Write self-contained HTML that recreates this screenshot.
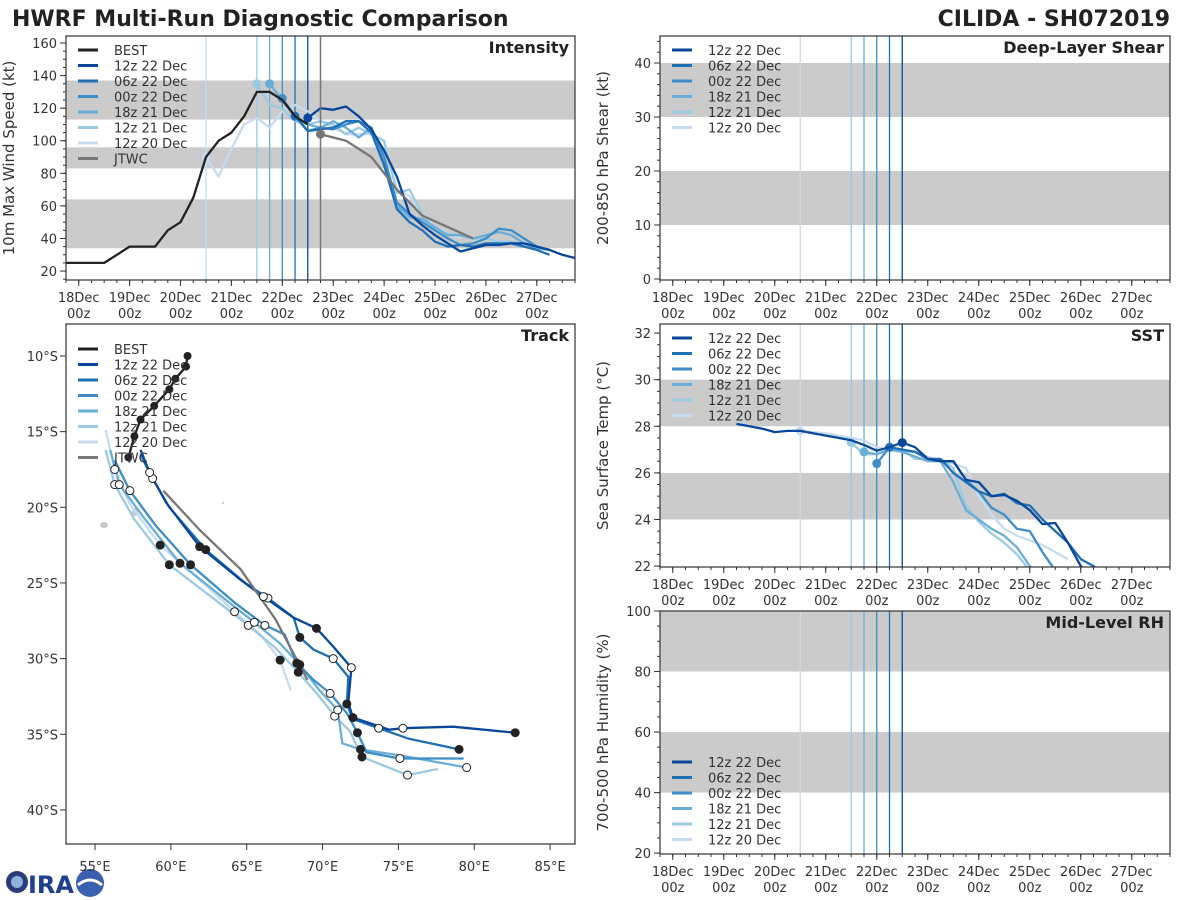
<!DOCTYPE html>
<html><head><meta charset="utf-8"><style>
body{margin:0;background:#fff;}
svg{display:block;font-family:"DejaVu Sans","Liberation Sans",sans-serif;}
</style></head><body>
<svg id="s" width="1200" height="900" viewBox="0 0 1200 900" xmlns="http://www.w3.org/2000/svg">
<text x="12" y="26" font-size="22" font-weight="bold" fill="#222">HWRF Multi-Run Diagnostic Comparison</text>
<text x="1170" y="26" font-size="22" font-weight="bold" fill="#222" text-anchor="end">CILIDA - SH072019</text>
<g>
<circle cx="17" cy="882" r="11" fill="#2a3c7a"/><circle cx="17" cy="882" r="6" fill="#8fb3de"/>
<text x="28" y="893" font-size="24" font-weight="bold" fill="#1f3f8f">IRA</text>
<circle cx="90" cy="883" r="14" fill="#3a5fae"/><path d="M78 885 q12 -10 24 0" stroke="#fff" stroke-width="3" fill="none"/>
</g>
</svg>
<script>
const runNames = ["12z 22 Dec","06z 22 Dec","00z 22 Dec","18z 21 Dec","12z 21 Dec","12z 20 Dec"];
const runColors = ["#08479b","#1f6fb4","#3d8ec8","#6aaed8","#9ccae3","#c7dcf0"];
const runInit = [108,102,96,90,84,60];
const jtwcTime = 114;
// Intensity (kt)
const bestStart = -6;
const bestVmax = [25,25,25,25,30,35,35,35,45,50,65,90,100,105,115,130,130,125,115,110];
const jtwcTimes = [114,126,138,150,162,174,186];
const jtwcVmax = [104,100,90,70,54,47,40];
const vmax12z22 = [114,120,119,121,115,107,94,78,55,48,42,37,32,34,36,36,37,37,35,33,30,28,26];
const vmax06z22 = [115,106,107,108,112,112,105,85,58,50,45,38,35,36,35,37,37,37,35,33,30];
const vmax00z22 = [126,115,106,108,107,110,112,108,90,62,55,50,45,40,36,37,40,46,45,40,35,33];
const vmax18z21 = [135,125,115,110,108,112,108,102,108,88,60,53,52,47,42,42,40,42,44,42,37,34,33];
const vmax12z21 = [135,122,120,112,110,112,110,104,108,104,100,68,70,55,45,43,42,40,40,38,38,36,35];
const vmax12z20 = [90,78,95,110,114,108,118,122,118,112,108,104,104,104,100,70,66,55,47,43,40];
// SST (C)
const sstHistStart = 30;
const sst12z22 = [28.1,28.0,27.9,27.75,27.8,27.8,27.7,27.6,27.5,27.4,27.2,26.95,27.1,27.3,27.1,26.6,26.5,26.5,25.7,25.6,25.0,25.05,24.8,24.4,23.8,23.85,23.0,22.0,21.5];
const sst06z22 = [27.1,27.0,26.9,26.6,26.6,26.0,25.6,25.2,25.0,25.1,24.7,24.6,24.0,23.5,23.0,22.3,22.0,21.6];
const sst00z22 = [26.4,27.1,27.0,26.9,26.6,26.5,26.5,25.7,25.2,24.5,24.2,23.6,23.5,22.6,21.8];
const sst18z21 = [26.9,26.8,27.0,26.9,26.7,26.5,26.5,25.6,24.4,24.0,23.6,23.3,22.8,22.0,21.5];
const sst12z21 = [27.3,26.8,26.8,27.0,27.0,26.6,26.6,26.6,26.2,24.6,23.9,23.4,23.0,22.5,21.8];
const sst12z20 = [27.8,27.75,27.7,27.6,27.5,27.4,27.1,27.0,26.9,26.9,26.7,26.5,26.4,26.2,25.0,24.2,23.6,23.3,23.1,22.9,22.6,22.3];
// Track (lon E, lat S)
const bestLon = [61.1,61.0,60.3,59.9,58.9,58.0,57.6,57.2];
const bestLat = [10.0,10.7,11.5,12.2,13.3,14.2,15.3,16.7];
const jtwcLon = [59.5,61.9,64.6,66.9,69.0];
const jtwcLat = [18.9,21.5,24.1,27.4,31.4];
const lon12z22 = [58.0,58.6,59.7,61.9,64.6,66.1,68.1,69.6,70.7,71.9,71.7,72.0,74.4,75.3,78.6,82.7];
const lat12z22 = [16.2,17.7,19.7,22.6,24.8,25.9,27.3,28.0,29.2,30.6,32.9,33.9,34.7,34.6,34.5,34.9];
const lon06z22 = [58.0,58.8,59.9,62.3,64.9,66.4,68.1,68.5,69.4,70.7,71.7,71.6,72.0,73.7,75.7,79.0];
const lat06z22 = [16.5,18.1,20.0,22.8,25.0,26.0,27.3,28.6,29.4,30.0,31.2,33.0,34.0,34.6,35.3,36.0];
const lon00z22 = [56.3,57.3,59.0,61.3,64.2,66.2,67.5,68.3,69.4,70.5,71.6,72.3,72.9,75.1,79.3];
const lat00z22 = [16.9,18.9,21.2,23.8,26.3,27.8,28.4,30.3,31.4,32.3,33.6,34.9,36.2,36.6,36.6];
const lon18z21 = [56.0,56.6,58.3,60.6,63.6,65.5,67.2,68.5,69.8,71.0,71.3,72.5,75.1,79.5];
const lat18z21 = [16.2,18.5,20.8,23.7,26.1,27.6,29.0,30.4,32.1,33.4,35.6,36.0,36.4,37.2];
const lon12z21 = [55.7,56.3,57.6,59.9,62.9,65.1,66.9,68.4,69.7,70.8,71.8,72.6,74.1,75.6,77.6];
const lat12z21 = [16.2,18.5,20.8,23.8,26.1,27.8,29.3,30.9,32.4,33.8,34.8,36.5,37.1,37.7,37.3];
const lon12z20 = [55.7,56.3,57.3,59.3,61.9,64.2,65.9,67.2,67.9];
const lat12z20 = [14.9,17.5,19.8,22.5,24.8,26.9,28.4,30.1,32.1];
const dayLabels = ["18Dec","19Dec","20Dec","21Dec","22Dec","23Dec","24Dec","25Dec","26Dec","27Dec"];
const lonTicks = [55,60,65,70,75,80,85];
const latTicks = [10,15,20,25,30,35,40];

const NS="http://www.w3.org/2000/svg", svg=document.getElementById('s');
function mk(tag,attrs,parent){const e=document.createElementNS(NS,tag);for(const k in attrs)e.setAttribute(k,attrs[k]);(parent||svg).appendChild(e);return e;}
function txt(x,y,s,attrs,parent){const e=mk('text',Object.assign({x:x,y:y,'font-size':13,fill:'#333'},attrs||{}),parent);e.textContent=s;return e;}

let clipN=0;
function timePanel(name,x0,x1,y0,y1,vmin,vmax,bands,yTicks,yMinor,ytitle,title){
  const g=mk('g',{});
  
  
  const P={x0,x1,y0,y1,g};
  P.sx=t=>x0+(t+6)/240*(x1-x0);
  P.sy=v=>y1-(v-vmin)/(vmax-vmin)*(y1-y0);
  const cid='c'+(clipN++);
  const cp=mk('clipPath',{id:cid},g);mk('rect',{x:x0,y:y0,width:x1-x0,height:y1-y0},cp);
  P.clip='url(#'+cid+')';
  bands.forEach(b=>{const r=mk('rect',{x:x0,y:P.sy(b[1]),width:x1-x0,height:P.sy(b[0])-P.sy(b[1]),fill:'#cbcbcb'},g);
    
    });
  const vg=mk('g',{'clip-path':P.clip},g);
  runInit.forEach((t,i)=>{const l=mk('line',{x1:P.sx(t),x2:P.sx(t),y1:y0,y2:y1,stroke:runColors[i],'stroke-width':1.3},vg);
    
    });
  P.data=mk('g',{'clip-path':P.clip},g);
  for(let d=0;d<10;d++){const x=P.sx(d*24);
    mk('line',{x1:x,x2:x,y1:y1,y2:y1+6,stroke:'#333'},g);
    txt(x,y1+22,dayLabels[d],{'text-anchor':'middle'},g);
    txt(x,y1+38,'00z',{'text-anchor':'middle'},g);}
  for(let t=-6;t<=234;t+=6){const x=P.sx(t);mk('line',{x1:x,x2:x,y1:y1,y2:y1+3,stroke:'#333'},g);}
  yTicks.forEach(v=>{const y=P.sy(v);mk('line',{x1:x0-6,x2:x0,y1:y,y2:y,stroke:'#333'},g);txt(x0-9,y+5,String(v),{'text-anchor':'end'},g);});
  for(let v=yTicks[0]-yMinor*4;v<=yTicks[yTicks.length-1]+yMinor*4;v+=yMinor){const y=P.sy(v);if(y>=y0&&y<=y1)mk('line',{x1:x0-3,x2:x0,y1:y,y2:y,stroke:'#333'},g);}
  mk('rect',{x:x0,y:y0,width:x1-x0,height:y1-y0,fill:'none',stroke:'#333','stroke-width':1.2},g);
  const yt=txt(0,0,ytitle,{'font-size':15,'text-anchor':'middle',transform:`translate(${x0-52},${(y0+y1)/2}) rotate(-90)`},g);
  
  
  const tt=txt(x1-6,y0+17,title,{'font-size':16,'font-weight':'bold','text-anchor':'end',fill:'#222'},g);
  
  
  return P;
}
function series(P,t0,vals,color,w,name,marker){
  const pts=vals.map((v,i)=>P.sx(t0+i*6).toFixed(1)+','+P.sy(v).toFixed(1)).join(' ');
  const l=mk('polyline',{points:pts,fill:'none',stroke:color,'stroke-width':w,'stroke-linejoin':'round'},P.data);
  
  
  if(marker){const c=mk('circle',{cx:P.sx(t0),cy:P.sy(vals[0]),r:4.5,fill:color},P.data);
    
    }
}
function seriesXY(P,ts,vals,color,w,name){
  const pts=vals.map((v,i)=>P.sx(ts[i]).toFixed(1)+','+P.sy(v).toFixed(1)).join(' ');
  const l=mk('polyline',{points:pts,fill:'none',stroke:color,'stroke-width':w},P.data);
  
  
}
function legend(x,y,names,colors,parent){
  const g=mk('g',{},parent);
  
  
  names.forEach((n,i)=>{const yy=y+i*15.5;
    mk('line',{x1:x,x2:x+20,y1:yy,y2:yy,stroke:colors[i],'stroke-width':3},g);
    const t=txt(x+36,yy+5,n,{},g);
    
    });
}

const PI=timePanel('intensity',66,575,36,280,14.5,164.3,[[34,64],[83,96],[113,137]],[20,40,60,80,100,120,140,160],5,'10m Max Wind Speed (kt)','Intensity');
{const l=mk('line',{x1:PI.sx(jtwcTime),x2:PI.sx(jtwcTime),y1:36,y2:280,stroke:'#777','stroke-width':1.5},PI.g);
 
 }
const vmaxRuns=[vmax12z22,vmax06z22,vmax00z22,vmax18z21,vmax12z21,vmax12z20];
for(let i=5;i>=0;i--)series(PI,runInit[i],vmaxRuns[i],runColors[i],2.3,'intensity-'+runNames[i].replace(/ /g,'-'),true);
series(PI,bestStart,bestVmax,'#222',2.3,'intensity-best',false);
seriesXY(PI,jtwcTimes,jtwcVmax,'#777',2.3,'intensity-jtwc');
{const c=mk('circle',{cx:PI.sx(jtwcTimes[0]),cy:PI.sy(jtwcVmax[0]),r:4.5,fill:'#777'},PI.data);
 
 }
legend(78,50,['BEST'].concat(runNames,['JTWC']),['#222'].concat(runColors,['#777']),PI.g);

const PS=timePanel('shear',660,1170,36,280,-0.19,45,[[10,20],[30,40]],[0,10,20,30,40],2,'200-850 hPa Shear (kt)','Deep-Layer Shear');
legend(672,50,runNames,runColors,PS.g);
const PT=timePanel('sst',660,1170,324,567,21.96,32.39,[[24,26],[28,30]],[22,24,26,28,30,32],0.5,'Sea Surface Temp (°C)','SST');
const sstRuns=[sst12z22,sst06z22,sst00z22,sst18z21,sst12z21,sst12z20];
for(let i=5;i>=1;i--)series(PT,runInit[i],sstRuns[i],runColors[i],2.3,'sst-'+runNames[i].replace(/ /g,'-'),true);
series(PT,sstHistStart,sst12z22,runColors[0],2.3,'sst-12z-22-Dec',false);
{const c=mk('circle',{cx:PT.sx(runInit[0]),cy:PT.sy(sst12z22[(runInit[0]-sstHistStart)/6]),r:4.5,fill:runColors[0]},PT.data);
 
 }
legend(672,338,runNames,runColors,PT.g);
const PR=timePanel('rh',660,1170,611,854,19.7,100,[[40,60],[80,100]],[20,40,60,80,100],5,'700-500 hPa Humidity (%)','Mid-Level RH');
legend(672,762,runNames,runColors,PR.g);

(function(){
  const x0=66,x1=575,y0=324,y1=844;
  const g=mk('g',{});
  
  
  const sx=lon=>95+(lon-55)*15.17, sy=lat=>356+(lat-10)*15.13;
  const cp=mk('clipPath',{id:'ctrack'},g);mk('rect',{x:x0,y:y0,width:x1-x0,height:y1-y0},cp);
  const d=mk('g',{'clip-path':'url(#ctrack)'},g);
  [[104,525,4,3],[135,512,3,4],[223,503,1.2,1]].forEach(a=>{const e=mk('ellipse',{cx:a[0],cy:a[1],rx:a[2],ry:a[3],fill:'#c8c8c8'},d);
    
    });
  const lons=[lon12z22,lon06z22,lon00z22,lon18z21,lon12z21,lon12z20], lats=[lat12z22,lat06z22,lat00z22,lat18z21,lat12z21,lat12z20];
  function path(lo,la,color,name){const l=mk('polyline',{points:lo.map((v,i)=>sx(v).toFixed(1)+','+sy(la[i]).toFixed(1)).join(' '),fill:'none',stroke:color,'stroke-width':2.3},d);
    
    }
  for(let i=5;i>=0;i--)path(lons[i],lats[i],runColors[i],'track-'+runNames[i].replace(/ /g,'-'));
  path(jtwcLon,jtwcLat,'#777','track-jtwc');
  path(bestLon,bestLat,'#222','track-best');
  for(let i=5;i>=0;i--){lons[i].forEach((v,k)=>{if(k%2===1){const c=mk('circle',{cx:sx(v),cy:sy(lats[i][k]),r:4,fill:(k%4===1)?'#fff':'#222',stroke:'#222','stroke-width':1},d);
    
    }});}
  bestLon.forEach((v,k)=>{const c=mk('circle',{cx:sx(v),cy:sy(bestLat[k]),r:4,fill:'#222'},d);
    
    });
  lonTicks.forEach(v=>{const x=sx(v);mk('line',{x1:x,x2:x,y1:y1,y2:y1+6,stroke:'#333'},g);txt(x,y1+27,v+'°E',{'text-anchor':'middle'},g);});
  latTicks.forEach(v=>{const y=sy(v);mk('line',{x1:x0-6,x2:x0,y1:y,y2:y,stroke:'#333'},g);txt(x0-8,y+5,v+'°S',{'text-anchor':'end'},g);});
  mk('rect',{x:x0,y:y0,width:x1-x0,height:y1-y0,fill:'none',stroke:'#333','stroke-width':1.2},g);
  const t=txt(x1-6,y0+17,'Track',{'font-size':16,'font-weight':'bold','text-anchor':'end',fill:'#222'},g);
  
  
  legend(78,349,['BEST'].concat(runNames,['JTWC']),['#222'].concat(runColors,['#777']),g);
})();
</script>
</body></html>
